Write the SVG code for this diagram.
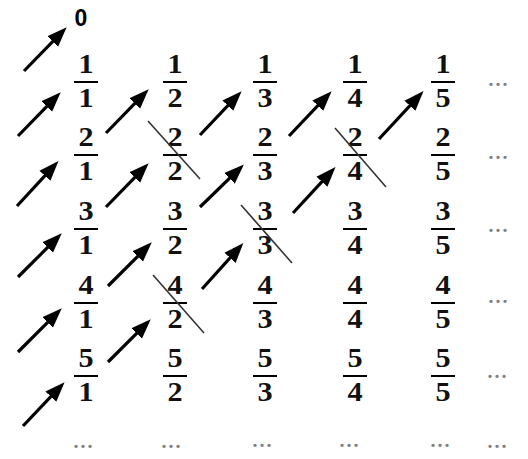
<svg xmlns="http://www.w3.org/2000/svg" width="528" height="459" viewBox="0 0 528 459">
<defs>
<marker id="ah" viewBox="0 -8 20 16" refX="11" refY="0" markerWidth="20" markerHeight="16" markerUnits="userSpaceOnUse" orient="auto">
<path d="M0,-7.5 L20,0 L0,7.5 z" fill="#000"/>
</marker>
</defs>
<style>
.d{font-family:'Liberation Serif','Times New Roman',serif;font-size:27px;font-weight:bold;text-anchor:middle;fill:#111}
.bar{stroke:#000;stroke-width:2}
.z{font-family:'Liberation Sans',Arial,sans-serif;font-size:23px;font-weight:bold;text-anchor:middle;fill:#000}
.el{font-family:'Liberation Serif','Times New Roman',serif;font-size:28px;text-anchor:middle;fill:#808080}
.ar{stroke:#000;stroke-width:3.2;fill:none;marker-end:url(#ah)}
.x{stroke:#333;stroke-width:1.6}
</style>
<rect width="528" height="459" fill="#fff"/>

<g id="zero"><text class="z" x="81" y="26">0</text></g>

<g id="f-1-1" transform="translate(86,82)"><g transform="scale(1.12,1)"><text class="d" x="0" y="-9">1</text><line class="bar" x1="-10.7" y1="0" x2="10.7" y2="0"/><text class="d" x="0" y="25">1</text></g></g>
<g id="f-1-2" transform="translate(175,82)"><g transform="scale(1.12,1)"><text class="d" x="0" y="-9">1</text><line class="bar" x1="-10.7" y1="0" x2="10.7" y2="0"/><text class="d" x="0" y="25">2</text></g></g>
<g id="f-1-3" transform="translate(265,82)"><g transform="scale(1.12,1)"><text class="d" x="0" y="-9">1</text><line class="bar" x1="-10.7" y1="0" x2="10.7" y2="0"/><text class="d" x="0" y="25">3</text></g></g>
<g id="f-1-4" transform="translate(355,82)"><g transform="scale(1.12,1)"><text class="d" x="0" y="-9">1</text><line class="bar" x1="-10.7" y1="0" x2="10.7" y2="0"/><text class="d" x="0" y="25">4</text></g></g>
<g id="f-1-5" transform="translate(443,82)"><g transform="scale(1.12,1)"><text class="d" x="0" y="-9">1</text><line class="bar" x1="-10.7" y1="0" x2="10.7" y2="0"/><text class="d" x="0" y="25">5</text></g></g>

<g id="f-2-1" transform="translate(86,155)"><g transform="scale(1.12,1)"><text class="d" x="0" y="-9">2</text><line class="bar" x1="-10.7" y1="0" x2="10.7" y2="0"/><text class="d" x="0" y="25">1</text></g></g>
<g id="f-2-2" transform="translate(175,155)"><g transform="scale(1.12,1)"><text class="d" x="0" y="-9">2</text><line class="bar" x1="-10.7" y1="0" x2="10.7" y2="0"/><text class="d" x="0" y="25">2</text></g></g>
<g id="f-2-3" transform="translate(265,155)"><g transform="scale(1.12,1)"><text class="d" x="0" y="-9">2</text><line class="bar" x1="-10.7" y1="0" x2="10.7" y2="0"/><text class="d" x="0" y="25">3</text></g></g>
<g id="f-2-4" transform="translate(355,155)"><g transform="scale(1.12,1)"><text class="d" x="0" y="-9">2</text><line class="bar" x1="-10.7" y1="0" x2="10.7" y2="0"/><text class="d" x="0" y="25">4</text></g></g>
<g id="f-2-5" transform="translate(443,155)"><g transform="scale(1.12,1)"><text class="d" x="0" y="-9">2</text><line class="bar" x1="-10.7" y1="0" x2="10.7" y2="0"/><text class="d" x="0" y="25">5</text></g></g>

<g id="f-3-1" transform="translate(86,229)"><g transform="scale(1.12,1)"><text class="d" x="0" y="-9">3</text><line class="bar" x1="-10.7" y1="0" x2="10.7" y2="0"/><text class="d" x="0" y="25">1</text></g></g>
<g id="f-3-2" transform="translate(175,229)"><g transform="scale(1.12,1)"><text class="d" x="0" y="-9">3</text><line class="bar" x1="-10.7" y1="0" x2="10.7" y2="0"/><text class="d" x="0" y="25">2</text></g></g>
<g id="f-3-3" transform="translate(265,229)"><g transform="scale(1.12,1)"><text class="d" x="0" y="-9">3</text><line class="bar" x1="-10.7" y1="0" x2="10.7" y2="0"/><text class="d" x="0" y="25">3</text></g></g>
<g id="f-3-4" transform="translate(355,229)"><g transform="scale(1.12,1)"><text class="d" x="0" y="-9">3</text><line class="bar" x1="-10.7" y1="0" x2="10.7" y2="0"/><text class="d" x="0" y="25">4</text></g></g>
<g id="f-3-5" transform="translate(443,229)"><g transform="scale(1.12,1)"><text class="d" x="0" y="-9">3</text><line class="bar" x1="-10.7" y1="0" x2="10.7" y2="0"/><text class="d" x="0" y="25">5</text></g></g>

<g id="f-4-1" transform="translate(86,303)"><g transform="scale(1.12,1)"><text class="d" x="0" y="-9">4</text><line class="bar" x1="-10.7" y1="0" x2="10.7" y2="0"/><text class="d" x="0" y="25">1</text></g></g>
<g id="f-4-2" transform="translate(175,303)"><g transform="scale(1.12,1)"><text class="d" x="0" y="-9">4</text><line class="bar" x1="-10.7" y1="0" x2="10.7" y2="0"/><text class="d" x="0" y="25">2</text></g></g>
<g id="f-4-3" transform="translate(265,303)"><g transform="scale(1.12,1)"><text class="d" x="0" y="-9">4</text><line class="bar" x1="-10.7" y1="0" x2="10.7" y2="0"/><text class="d" x="0" y="25">3</text></g></g>
<g id="f-4-4" transform="translate(355,303)"><g transform="scale(1.12,1)"><text class="d" x="0" y="-9">4</text><line class="bar" x1="-10.7" y1="0" x2="10.7" y2="0"/><text class="d" x="0" y="25">4</text></g></g>
<g id="f-4-5" transform="translate(443,303)"><g transform="scale(1.12,1)"><text class="d" x="0" y="-9">4</text><line class="bar" x1="-10.7" y1="0" x2="10.7" y2="0"/><text class="d" x="0" y="25">5</text></g></g>

<g id="f-5-1" transform="translate(86,376)"><g transform="scale(1.12,1)"><text class="d" x="0" y="-9">5</text><line class="bar" x1="-10.7" y1="0" x2="10.7" y2="0"/><text class="d" x="0" y="25">1</text></g></g>
<g id="f-5-2" transform="translate(175,376)"><g transform="scale(1.12,1)"><text class="d" x="0" y="-9">5</text><line class="bar" x1="-10.7" y1="0" x2="10.7" y2="0"/><text class="d" x="0" y="25">2</text></g></g>
<g id="f-5-3" transform="translate(265,376)"><g transform="scale(1.12,1)"><text class="d" x="0" y="-9">5</text><line class="bar" x1="-10.7" y1="0" x2="10.7" y2="0"/><text class="d" x="0" y="25">3</text></g></g>
<g id="f-5-4" transform="translate(355,376)"><g transform="scale(1.12,1)"><text class="d" x="0" y="-9">5</text><line class="bar" x1="-10.7" y1="0" x2="10.7" y2="0"/><text class="d" x="0" y="25">4</text></g></g>
<g id="f-5-5" transform="translate(443,376)"><g transform="scale(1.12,1)"><text class="d" x="0" y="-9">5</text><line class="bar" x1="-10.7" y1="0" x2="10.7" y2="0"/><text class="d" x="0" y="25">5</text></g></g>

<g id="ellipses">
<text class="el" x="498" y="86">...</text>
<text class="el" x="498" y="159">...</text>
<text class="el" x="498" y="232">...</text>
<text class="el" x="498" y="303">...</text>
<text class="el" x="497" y="378">...</text>
<text class="el" x="83" y="448">...</text>
<text class="el" x="171" y="448">...</text>
<text class="el" x="262" y="447">...</text>
<text class="el" x="349" y="447">...</text>
<text class="el" x="440" y="447">...</text>
<text class="el" x="497" y="448">...</text>
</g>

<g id="crossouts">
<line class="x" x1="148" y1="121" x2="200" y2="179"/>
<line class="x" x1="335" y1="128" x2="386" y2="187"/>
<line class="x" x1="241" y1="205" x2="292" y2="263"/>
<line class="x" x1="153" y1="275" x2="204" y2="333"/>
</g>

<g id="connectors">
<path class="ar" d="M24,71 L60.4,33.7"/>
<path class="ar" d="M18,136 L54.4,98.7"/>
<path class="ar" d="M17,206 L52.4,167.7"/>
<path class="ar" d="M18,277 L55.4,239.7"/>
<path class="ar" d="M18,352 L55.4,314.7"/>
<path class="ar" d="M23,426 L58.4,388.7"/>
<path class="ar" d="M106,133 L142.4,95.7"/>
<path class="ar" d="M106,207 L142.4,169.7"/>
<path class="ar" d="M108,286 L145.4,248.7"/>
<path class="ar" d="M108,362 L144.4,325.7"/>
<path class="ar" d="M200,135 L235.4,97.7"/>
<path class="ar" d="M200,207 L237.4,170.7"/>
<path class="ar" d="M202,289 L237.4,249.7"/>
<path class="ar" d="M289,136 L325.4,97.7"/>
<path class="ar" d="M293,213 L329.4,173.7"/>
<path class="ar" d="M379,139 L417.4,97.7"/>
</g>
</svg>
